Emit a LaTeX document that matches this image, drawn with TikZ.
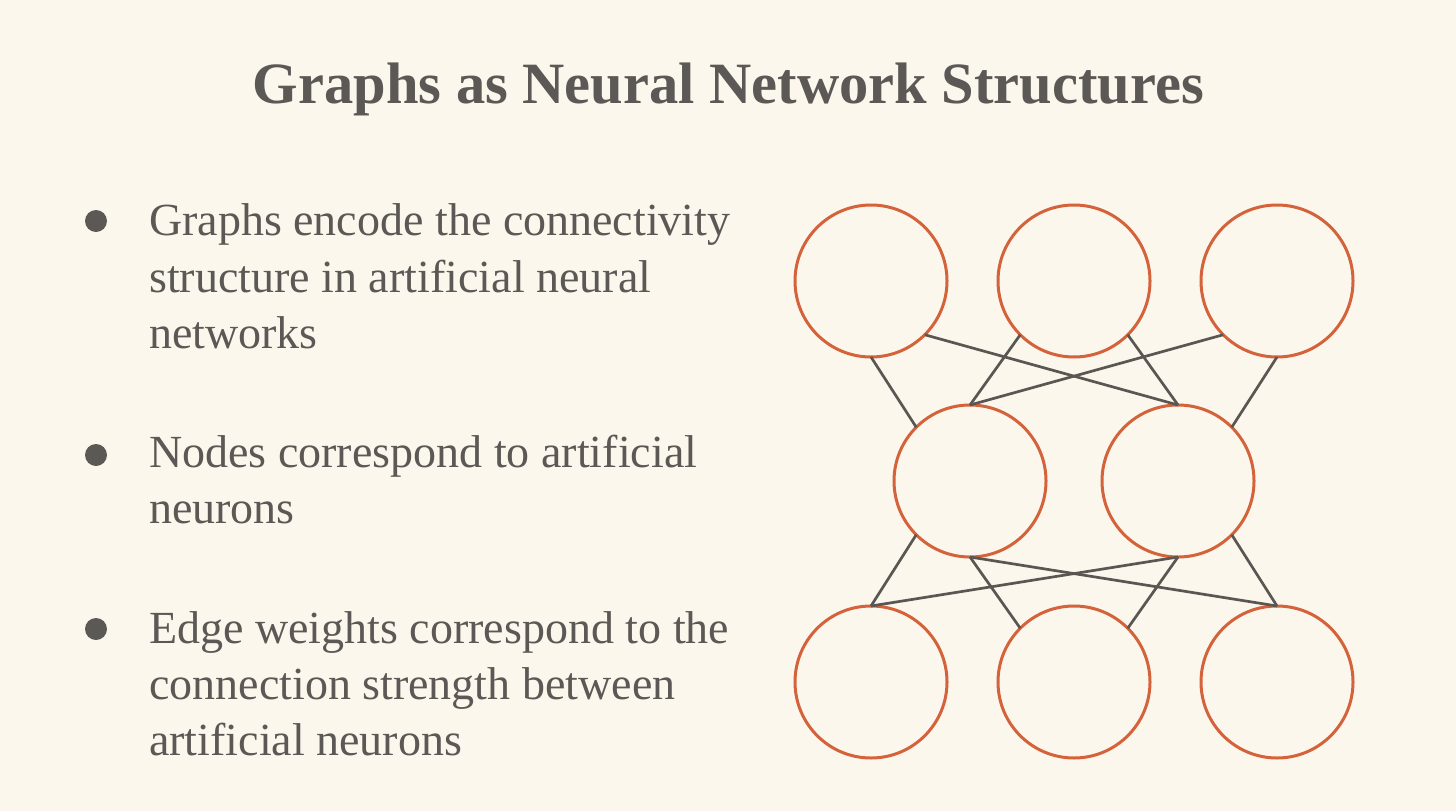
\documentclass[tikz,border=0pt]{standalone}
\usepackage{fontspec}
\setmainfont{Liberation Serif}
\definecolor{bg}{HTML}{FCF7ED}
\definecolor{ink}{HTML}{5B5855}
\definecolor{edgeink}{HTML}{5A5753}
\definecolor{neuron}{HTML}{D4623A}
\tikzset{
  neuronnode/.style={circle, draw=neuron, line width=3pt, minimum size=152pt, inner sep=0pt, outer sep=0pt},
  link/.style={draw=edgeink, line width=2.7pt},
  bodytext/.style={anchor=base west, inner sep=0pt, text=ink, font=\fontsize{46}{56}\selectfont},
  bulletdot/.style={circle, fill=ink, minimum size=22pt, inner sep=0pt},
  titletext/.style={anchor=base, inner sep=0pt, text=ink, font=\fontsize{58.5}{64}\selectfont\bfseries}
}
\begin{document}
\begin{tikzpicture}[x=1pt, y=-1pt]
\fill[bg] (0,0) rectangle (1456,811);
\useasboundingbox (0,0) rectangle (1456,811);

\node[titletext] (title) at (728.5,103) {Graphs as Neural Network Structures};

% bullets
\node[bulletdot] (d1) at (96,221) {};
\node[bodytext] (b1a) at (149,235) {Graphs encode the connectivity};
\node[bodytext] (b1b) at (149,292) {structure in artificial neural};
\node[bodytext] (b1c) at (149,348) {networks};

\node[bulletdot] (d2) at (96,455) {};
\node[bodytext] (b2a) at (149,467) {Nodes correspond to artificial};
\node[bodytext] (b2b) at (149,523) {neurons};

\node[bulletdot] (d3) at (96,629) {};
\node[bodytext] (b3a) at (149,643) {Edge weights correspond to the};
\node[bodytext] (b3b) at (149,699) {connection strength between};
\node[bodytext] (b3c) at (149,755) {artificial neurons};

% neurons
\node[neuronnode] (T1) at (871,281) {};
\node[neuronnode] (T2) at (1074,281) {};
\node[neuronnode] (T3) at (1277,281) {};
\node[neuronnode] (M1) at (970,481) {};
\node[neuronnode] (M2) at (1178,481) {};
\node[neuronnode] (B1) at (871,682) {};
\node[neuronnode] (B2) at (1074,682) {};
\node[neuronnode] (B3) at (1277,682) {};

% connections
\draw[link] (T1.south) -- (M1.north west);
\draw[link] (T1.south east) -- (M2.north);
\draw[link] (T2.south west) -- (M1.north);
\draw[link] (T2.south east) -- (M2.north);
\draw[link] (T3.south west) -- (M1.north);
\draw[link] (T3.south) -- (M2.north east);
\draw[link] (M1.south west) -- (B1.north);
\draw[link] (M1.south) -- (B2.north west);
\draw[link] (M1.south) -- (B3.north);
\draw[link] (M2.south) -- (B1.north);
\draw[link] (M2.south) -- (B2.north east);
\draw[link] (M2.south east) -- (B3.north);
\end{tikzpicture}
\end{document}
